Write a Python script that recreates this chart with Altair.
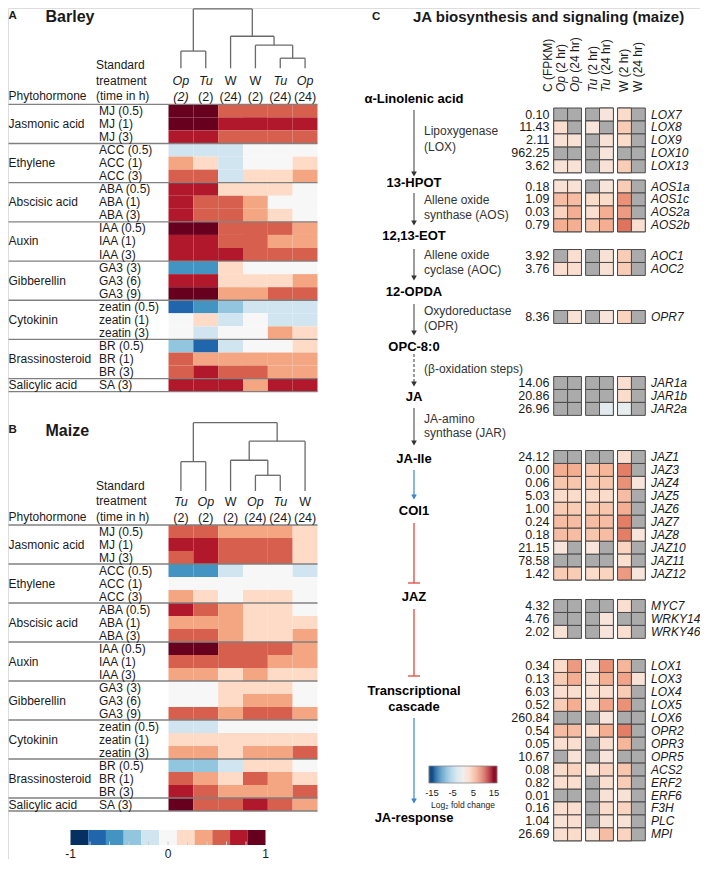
import altair as alt
import pandas as pd
import numpy as np

FONT = "Liberation Sans"

# ------------------------------------------------------------------ data: panels A and B
hormones = ["Jasmonic acid", "Ethylene", "Abscisic acid", "Auxin", "Gibberellin",
            "Cytokinin", "Brassinosteroid", "Salicylic acid"]
treatments = [
    ["MJ (0.5)", "MJ (1)", "MJ (3)"],
    ["ACC (0.5)", "ACC (1)", "ACC (3)"],
    ["ABA (0.5)", "ABA (1)", "ABA (3)"],
    ["IAA (0.5)", "IAA (1)", "IAA (3)"],
    ["GA3 (3)", "GA3 (6)", "GA3 (9)"],
    ["zeatin (0.5)", "zeatin (1)", "zeatin (3)"],
    ["BR (0.5)", "BR (1)", "BR (3)"],
    ["SA (3)"],
]
barley_species = ["Op", "Tu", "W", "W", "Tu", "Op"]
barley_times = ["(2)", "(2)", "(24)", "(2)", "(24)", "(24)"]
barley_time_italic = [True, False, False, False, False, False]
maize_species = ["Tu", "Op", "W", "Op", "Tu", "W"]
maize_times = ["(2)", "(2)", "(2)", "(24)", "(24)", "(24)"]
maize_time_italic = [False] * 6

barley_corr = [
    [0.95, 0.95, 0.55, 0.55, 0.55, 0.55],
    [0.95, 0.95, 0.75, 0.75, 0.75, 0.75],
    [0.75, 0.75, 0.55, 0.55, 0.55, 0.55],
    [-0.2, -0.2, -0.2, 0.0, 0.0, 0.0],
    [0.4, 0.2, -0.2, 0.0, 0.0, 0.2],
    [0.55, 0.55, -0.2, 0.2, 0.2, 0.4],
    [0.75, 0.75, 0.2, 0.2, 0.2, 0.0],
    [0.75, 0.55, 0.55, 0.4, 0.0, 0.0],
    [0.75, 0.55, 0.55, 0.4, 0.2, 0.0],
    [0.95, 0.95, 0.55, 0.55, 0.55, 0.4],
    [0.75, 0.75, 0.55, 0.55, 0.4, 0.4],
    [0.75, 0.75, 0.75, 0.55, 0.55, 0.55],
    [-0.55, -0.55, 0.2, 0.0, 0.0, 0.0],
    [0.75, 0.75, 0.2, 0.2, 0.2, 0.4],
    [0.95, 0.95, 0.4, 0.4, 0.55, 0.55],
    [-0.75, -0.55, -0.4, -0.2, -0.2, -0.2],
    [0.0, 0.2, -0.2, 0.0, -0.2, -0.2],
    [0.0, -0.2, 0.0, 0.0, 0.4, 0.2],
    [-0.4, -0.75, -0.2, 0.0, 0.0, 0.2],
    [0.55, 0.4, 0.4, 0.4, 0.4, 0.4],
    [0.55, 0.75, 0.55, 0.55, 0.4, 0.4],
    [0.75, 0.75, 0.75, 0.4, 0.75, 0.75],
]
maize_corr = [
    [0.55, 0.55, 0.4, 0.4, 0.4, 0.2],
    [0.75, 0.75, 0.55, 0.55, 0.55, 0.2],
    [0.55, 0.75, 0.55, 0.55, 0.55, 0.2],
    [-0.55, -0.55, -0.2, 0.0, 0.0, -0.2],
    [0.0, 0.0, 0.0, 0.0, 0.0, 0.0],
    [0.4, 0.2, 0.0, 0.2, 0.2, 0.0],
    [0.75, 0.55, 0.4, 0.2, 0.2, 0.0],
    [0.4, 0.4, 0.4, 0.2, 0.2, 0.2],
    [0.55, 0.55, 0.4, 0.2, 0.2, 0.4],
    [0.95, 0.95, 0.55, 0.55, 0.55, 0.4],
    [0.55, 0.55, 0.55, 0.55, 0.4, 0.4],
    [0.4, 0.4, 0.2, 0.4, 0.2, 0.2],
    [0.0, 0.0, 0.2, 0.2, 0.2, 0.0],
    [0.0, 0.0, 0.2, 0.4, 0.4, 0.0],
    [0.55, 0.55, 0.4, 0.55, 0.55, 0.4],
    [-0.2, -0.2, 0.0, 0.0, 0.0, 0.0],
    [0.2, 0.2, 0.2, 0.2, 0.2, 0.2],
    [0.4, 0.4, 0.2, 0.4, 0.4, 0.55],
    [-0.4, -0.4, -0.2, 0.2, 0.2, 0.0],
    [0.55, 0.4, 0.2, 0.55, 0.4, 0.2],
    [0.75, 0.55, 0.4, 0.4, 0.4, 0.55],
    [0.95, 0.55, 0.55, 0.75, 0.55, 0.4],
]
# dendrogram merges: (left node, right node, relative height); leaves are 0..5
barley_merges = [(0, 1, 0.29), (4, 5, 0.17), (3, 7, 0.39), (2, 8, 0.54), (6, 9, 1.0)]
maize_merges = [(0, 1, 0.43), (3, 4, 0.23), (2, 7, 0.45), (8, 5, 0.73), (6, 9, 1.0)]

# ------------------------------------------------------------------ data: panel C
c_groups = ["Op", "Op", "Tu", "Tu", "W", "W"]
c_times = ["2 hr", "24 hr", "2 hr", "24 hr", "2 hr", "24 hr"]
c_genes = [
    ["LOX7", "LOX8", "LOX9", "LOX10", "LOX13"],
    ["AOS1a", "AOS1c", "AOS2a", "AOS2b"],
    ["AOC1", "AOC2"],
    ["OPR7"],
    ["JAR1a", "JAR1b", "JAR2a"],
    ["JAZ1", "JAZ3", "JAZ4", "JAZ5", "JAZ6", "JAZ7", "JAZ8", "JAZ10", "JAZ11", "JAZ12"],
    ["MYC7", "WRKY14", "WRKY46"],
    ["LOX1", "LOX3", "LOX4", "LOX5", "LOX6", "OPR2", "OPR3", "OPR5", "ACS2", "ERF2",
     "ERF6", "F3H", "PLC", "MPI"],
]
c_fpkm = [
    [0.10, 11.43, 2.11, 962.25, 3.62],
    [0.18, 1.09, 0.03, 0.79],
    [3.92, 3.76],
    [8.36],
    [14.06, 20.86, 26.96],
    [24.12, 0.00, 0.06, 5.03, 1.00, 0.24, 0.18, 21.15, 78.58, 1.42],
    [4.32, 4.76, 2.02],
    [0.34, 0.13, 6.03, 0.52, 260.84, 0.54, 0.05, 10.67, 0.08, 0.82, 0.01, 0.16, 1.04, 26.69],
]
N = None  # not significant (grey)
c_fc = [
    [[N, N, N, 1.5, 3, N], [2.5, N, 1.5, N, 4, N], [2, 2, N, 2, 3, N],
     [N, N, N, 1.5, N, N], [2, 2, N, 2, 4, N]],
    [[2, 2, N, 1.5, 4, N], [5, 5, 3, 3, 7.5, N], [3.5, 6, 2.5, 6, 7, N],
     [6, 6, 4.5, 6, 9, 2.5]],
    [[N, 2.5, N, 2, 4, N], [2.5, 2.5, N, 2, 4, N]],
    [[N, 2, N, 1.5, 3.5, N]],
    [[N, N, N, N, 2.5, N], [N, N, N, N, 3, N], [N, N, N, -1.5, -1, N]],
    [[N, N, N, N, 2.5, N], [6, 6, 4.5, 5.5, 8.5, N], [4.5, 4.5, 4, 4.5, 7.5, 1.5],
     [3, 3, 3, 3, 5, N], [4, 4, 4, 4.5, 6, N], [5, 5, 5, 5, 8.5, N],
     [5, 5, 4.5, 5, 8.5, 1.5], [1.5, N, 1.5, N, 3.5, N], [N, N, N, N, 2.5, N],
     [4, 4, 3, 3.5, 7, 1.5]],
    [[N, N, N, N, 2.5, N], [N, N, N, 1.5, N, N], [2, N, N, 1.5, 2.5, N]],
    [[3, 7, 1.5, 7.5, 5.5, N], [4, 6, 2.5, 6, 6.5, 2], [2.5, 2.5, 2, 2.5, 4, N],
     [4, 6, 2.5, 6.5, 7.5, N], [N, N, N, 1.5, N, N], [5, 5, 3, 6, 8.5, N],
     [2.5, 2.5, N, 2.5, 5.5, N], [N, 2, N, 1.5, N, N], [3, 3.5, 2, 3.5, 4.5, N],
     [2.5, 2.5, N, 2.5, 4, N], [N, N, N, 2, 2, N], [2.5, 2.5, N, 3, 3.5, N],
     [2, 2.5, N, 2, 2, N], [2.5, 3, 2, 5, 3.5, N]],
]

# ------------------------------------------------------------------ layout helpers
W, H = 692, 851

# left column (panels A, B): reference pixel -> chart pixel
AB_YREF = [0, 30, 395, 425, 818, 836, 873]
AB_YCH = [-1, 22, 387, 413, 806, 819, 856]


def pxa(x):
    return x - 6.5


def pya(y):
    return float(np.interp(y, AB_YREF, AB_YCH))


# right column (panel C)
def pxc(x):
    return x - 11.0


def pyc(y):
    return y - 6.0


RD = ["#053061", "#2166ac", "#4393c3", "#92c5de", "#d1e5f0", "#f7f7f7",
      "#fddbc7", "#f4a582", "#d6604d", "#b2182b", "#67001f"]
QCOL = alt.Scale(type="quantize", domain=[-1, 1], range=RD)
CCOL = alt.Scale(domain=[-15, 15], scheme="redblue", reverse=True)
TXT = "#1a1a1a"
SEP = "#808080"

CANVAS = {
    "AB": (alt.Scale(domain=[0, 708], range=[pxa(0), pxa(708)], nice=False, zero=False),
           alt.Scale(domain=AB_YREF, range=AB_YCH, nice=False, zero=False)),
    "C": (alt.Scale(domain=[0, 708], range=[pxc(0), pxc(708)], nice=False, zero=False),
          alt.Scale(domain=[0, 873], range=[pyc(0), pyc(873)], nice=False, zero=False)),
}

layers = []


def canvas_text(rows, size, col, weight="normal", style="normal", align="left",
                color=TXT, angle=0):
    sx, sy = CANVAS[col]
    df = pd.DataFrame(rows, columns=["t", "x", "y"])
    return alt.Chart(df).mark_text(
        font=FONT, fontSize=size, fontWeight=weight, fontStyle=style,
        align=align, baseline="middle", color=color, angle=angle
    ).encode(x=alt.X("x:Q", scale=sx, axis=None), y=alt.Y("y:Q", scale=sy, axis=None),
             text="t:N")


def canvas_rules(rows, color, width=1.2, dash=None):
    sx, sy = CANVAS["C"]
    df = pd.DataFrame(rows, columns=["x", "y", "x2", "y2"])
    kw = dict(color=color, strokeWidth=width)
    if dash:
        kw["strokeDash"] = dash
    return alt.Chart(df).mark_rule(**kw).encode(
        x=alt.X("x:Q", scale=sx, axis=None), y=alt.Y("y:Q", scale=sy, axis=None),
        x2="x2:Q", y2="y2:Q")


def canvas_heads(rows, color):
    sx, sy = CANVAS["C"]
    df = pd.DataFrame(rows, columns=["x", "y"])
    return alt.Chart(df).mark_point(shape="triangle-down", filled=True, size=32,
                                     color=color, opacity=1).encode(
        x=alt.X("x:Q", scale=sx, axis=None), y=alt.Y("y:Q", scale=sy, axis=None))


def dendro_segments(merges, n=6):
    pos = {i: (float(i), 0.0) for i in range(n)}
    segs = []
    node = n
    for a, b, h in merges:
        xa, ha = pos[a]
        xb, hb = pos[b]
        segs.append(dict(x=xa, x2=xa, y=ha, y2=h))
        segs.append(dict(x=xb, x2=xb, y=hb, y2=h))
        segs.append(dict(x=xa, x2=xb, y=h, y2=h))
        pos[node] = ((xa + xb) / 2.0, h)
        node += 1
    return pd.DataFrame(segs)


def heat_panel(corr, species, times, time_italic, merges, y0, y1, d_top, d_bot, sp_y, t_y):
    out = []
    cols = [f"{s} {t}" for s, t in zip(species, times)]
    rows = [t for g in treatments for t in g]
    XS = alt.Scale(domain=cols, range=[pxa(167), pxa(316)], paddingInner=0, paddingOuter=0)
    YS = alt.Scale(domain=rows, range=[pya(y0), pya(y1)], paddingInner=0, paddingOuter=0)
    cells = pd.DataFrame([dict(row=r, col=c, v=corr[i][j])
                          for i, r in enumerate(rows) for j, c in enumerate(cols)])
    out.append(alt.Chart(cells).mark_rect().encode(
        x=alt.X("col:N", scale=XS, axis=None),
        y=alt.Y("row:N", scale=YS, axis=None),
        color=alt.Color("v:Q", scale=QCOL, legend=None)))
    sep = pd.DataFrame({"row": [g[0] for g in treatments]})
    out.append(alt.Chart(sep).mark_rule(color=SEP, strokeWidth=1.3).encode(
        y=alt.Y("row:N", scale=YS, axis=None, bandPosition=0),
        x=alt.value(pxa(7)), x2=alt.value(pxa(316))))
    last = pd.DataFrame({"row": [rows[-1]]})
    out.append(alt.Chart(last).mark_rule(color=SEP, strokeWidth=1.3).encode(
        y=alt.Y("row:N", scale=YS, axis=None, bandPosition=1),
        x=alt.value(pxa(7)), x2=alt.value(pxa(316))))
    lab = pd.DataFrame({"row": rows})
    out.append(alt.Chart(lab).mark_text(align="left", baseline="middle", font=FONT,
                                        fontSize=12, color=TXT).encode(
        y=alt.Y("row:N", scale=YS, axis=None), x=alt.value(pxa(97.5)), text="row:N"))
    grp = pd.DataFrame({"row": [g[len(g) // 2] for g in treatments], "name": hormones})
    out.append(alt.Chart(grp).mark_text(align="left", baseline="middle", font=FONT,
                                        fontSize=12, color=TXT).encode(
        y=alt.Y("row:N", scale=YS, axis=None), x=alt.value(pxa(7)), text="name:N"))
    hdr = pd.DataFrame({"col": cols, "sp": species, "tm": times,
                        "spi": [s != "W" for s in species], "tmi": time_italic})
    for field, yref, flag in [("sp", sp_y, "spi"), ("tm", t_y, "tmi")]:
        for ital in (True, False):
            sub = hdr[hdr[flag] == ital]
            if len(sub) == 0:
                continue
            out.append(alt.Chart(sub).mark_text(
                align="center", baseline="middle", font=FONT, fontSize=12.5,
                fontStyle="italic" if ital else "normal", color=TXT).encode(
                x=alt.X("col:N", scale=XS, axis=None), y=alt.value(pya(yref)),
                text=f"{field}:N"))
    seg = dendro_segments(merges)
    DX = alt.Scale(domain=[-0.5, 5.5], range=[pxa(167), pxa(316)], nice=False, zero=False)
    DY = alt.Scale(domain=[0, 1], range=[pya(d_bot), pya(d_top)], nice=False, zero=False)
    out.append(alt.Chart(seg).mark_rule(color="#6a6a6a", strokeWidth=1.3).encode(
        x=alt.X("x:Q", scale=DX, axis=None), x2="x2:Q",
        y=alt.Y("y:Q", scale=DY, axis=None), y2="y2:Q"))
    return out


# ------------------------------------------------------------------ panels A and B
layers += heat_panel(barley_corr, barley_species, barley_times, barley_time_italic,
                     barley_merges, 104.3, 391.7, 2.5, 68.3, 81, 97)
layers += heat_panel(maize_corr, maize_species, maize_times, maize_time_italic,
                     maize_merges, 529, 815, 426.7, 495, 506, 522)

for base in (0, 424.5):
    layers.append(canvas_text([("Standard", 94.5, 65 + base), ("treatment", 94.5, 80.5 + base),
                               ("(time in h)", 94.5, 96 + base), ("Phytohormone", 7, 96 + base)],
                              12, "AB"))
layers.append(canvas_text([("A", 7, 12), ("B", 7, 434)], 11.5, "AB", weight="bold"))
layers.append(canvas_text([("Barley", 44, 12.5), ("Maize", 44, 434.5)], 16, "AB", weight="bold"))
layers.append(canvas_text([("C", 375, 14.5)], 11.5, "C", weight="bold"))
layers.append(canvas_text([("JA biosynthesis and signaling (maize)", 416, 15)], 15, "C",
                          weight="bold"))

# colour bar for A/B
cb_edges = [-1 + 2 * k / 11 for k in range(12)]
cb = pd.DataFrame({"lo": cb_edges[:-1], "hi": cb_edges[1:]})
cb["mid"] = (cb["lo"] + cb["hi"]) / 2
CBX = alt.Scale(domain=[-1, 1], range=[pxa(69), pxa(264)], nice=False, zero=False)
layers.append(alt.Chart(cb).mark_rect().encode(
    x=alt.X("lo:Q", scale=CBX, axis=None), x2="hi:Q",
    y=alt.value(pya(839)), y2=alt.value(pya(854)),
    color=alt.Color("mid:Q", scale=QCOL, legend=None)))
cb_ticks = pd.DataFrame({"v": [-0.8, -0.6, -0.4, -0.2, 0.0, 0.2, 0.4, 0.6, 0.8]})
layers.append(alt.Chart(cb_ticks).mark_rule(color="#d0d0d0", strokeWidth=1).encode(
    x=alt.X("v:Q", scale=CBX, axis=None), y=alt.value(pya(850.5)), y2=alt.value(pya(854))))
cb_labels = pd.DataFrame({"v": [-1, 0, 1], "t": ["-1", "0", "1"]})
layers.append(alt.Chart(cb_labels).mark_text(font=FONT, fontSize=12, color=TXT,
                                             baseline="middle", align="center").encode(
    x=alt.X("v:Q", scale=CBX, axis=None), y=alt.value(pya(862.5)), text="t:N"))

# ------------------------------------------------------------------ panel C heat cells
pitch = 12.95
c_group_top = [112.5, 184.5, 254, 315, 381, 455, 604, 664]
crow = []
ccell = []
for gi, genes in enumerate(c_genes):
    for i, g in enumerate(genes):
        slot = (c_group_top[gi] - 112.5) / pitch + i
        crow.append(dict(gene=g, slot=slot, fpkm=f"{c_fpkm[gi][i]:.2f}"))
        for j in range(6):
            ccell.append(dict(gene=g, top=slot - 0.5, bot=slot + 0.5, grp=c_groups[j],
                              tm=c_times[j], fc=c_fc[gi][i][j]))
crow = pd.DataFrame(crow)
ccell = pd.DataFrame(ccell)

CX0, CX1, CPAD = 556.7, 648.3, 0.13
CYS = alt.Scale(domain=[0, 1], range=[pyc(112.5), pyc(112.5 + pitch)], nice=False, zero=False)
CXS = alt.Scale(domain=["Op", "Tu", "W"], range=[pxc(CX0), pxc(CX1)],
                paddingInner=CPAD, paddingOuter=0)
COFF = alt.Scale(domain=["2 hr", "24 hr"], paddingInner=0, paddingOuter=0)

layers.append(alt.Chart(ccell).mark_rect(fill="#ababab", stroke="#4a4a4a", strokeWidth=1).encode(
    x=alt.X("grp:N", scale=CXS, axis=None), xOffset=alt.XOffset("tm:N", scale=COFF),
    y=alt.Y("top:Q", scale=CYS, axis=None), y2="bot:Q"))
layers.append(alt.Chart(ccell).transform_filter("isValid(datum.fc)").mark_rect(
    stroke="#4a4a4a", strokeWidth=1).encode(
    x=alt.X("grp:N", scale=CXS, axis=None), xOffset=alt.XOffset("tm:N", scale=COFF),
    y=alt.Y("top:Q", scale=CYS, axis=None), y2="bot:Q",
    color=alt.Color("fc:Q", scale=CCOL, legend=None)))
layers.append(alt.Chart(crow).mark_text(font=FONT, fontSize=12, fontStyle="italic",
                                        align="left", baseline="middle", color=TXT).encode(
    x=alt.value(pxc(654)), y=alt.Y("slot:Q", scale=CYS, axis=None), text="gene:N"))
layers.append(alt.Chart(crow).mark_text(font=FONT, fontSize=12.5, align="right",
                                        baseline="middle", color=TXT).encode(
    x=alt.value(pxc(552.5)), y=alt.Y("slot:Q", scale=CYS, axis=None), text="fpkm:N"))

# rotated column headers, centred on the cell columns
step = (CX1 - CX0) / (3 - CPAD)
band = step * (1 - CPAD)
hx = [CX0 + g * step + (k + 0.5) * band / 2 for g in range(3) for k in range(2)]
ital_rows, norm_rows = [], []
for j in range(6):
    sp, tm = c_groups[j], c_times[j]
    if sp == "W":
        norm_rows.append((f"W ({tm})", hx[j], 90))
    else:
        shift = 19.3 if sp == "Op" else 17.3
        ital_rows.append((sp, hx[j], 90))
        norm_rows.append((f"({tm})", hx[j], 90 - shift))
norm_rows.append(("C (FPKM)", 551, 90))
layers.append(canvas_text(ital_rows, 12, "C", style="italic", angle=270))
layers.append(canvas_text(norm_rows, 12, "C", angle=270))

# ------------------------------------------------------------------ panel C pathway diagram
AX = 417
compounds = [("α-Linolenic acid", AX, 97), ("13-HPOT", AX, 181), ("12,13-EOT", AX, 234),
             ("12-OPDA", AX, 290), ("OPC-8:0", AX, 345), ("JA", AX, 395), ("JA-Ile", AX, 457),
             ("COI1", AX, 509), ("JAZ", AX, 595), ("Transcriptional", AX, 689),
             ("cascade", AX, 705), ("JA-response", AX, 816)]
layers.append(canvas_text(compounds, 13, "C", weight="bold", align="center", color="#000000"))
enzymes = [("Lipoxygenase", 427, 128.5), ("(LOX)", 427, 144.5), ("Allene oxide", 427, 198),
           ("synthase (AOS)", 427, 212.5), ("Allene oxide", 427, 253), ("cyclase (AOC)", 427, 268),
           ("Oxydoreductase", 427, 309), ("(OPR)", 427, 324), ("(β-oxidation steps)", 427, 367),
           ("JA-amino", 427, 417), ("synthase (JAR)", 427, 431)]
layers.append(canvas_text(enzymes, 12, "C", color="#333333"))

gray_arrows = [(108, 175), (191, 224), (247, 279), (302, 334), (406, 444)]
layers.append(canvas_rules([(AX, a, AX, b - 5) for a, b in gray_arrows], "#5a5a5a"))
layers.append(canvas_rules([(AX, 352, AX, 380)], "#5a5a5a", dash=[3, 2]))
layers.append(canvas_heads([(AX, b - 3) for a, b in gray_arrows] + [(AX, 382)], "#333333"))
blue_arrows = [(468, 498), (716, 802)]
layers.append(canvas_rules([(AX, a, AX, b - 5) for a, b in blue_arrows], "#3d85c6"))
layers.append(canvas_heads([(AX, b - 3) for a, b in blue_arrows], "#3d85c6"))
red_bars = [(521, 581), (607, 674)]
layers.append(canvas_rules([(AX, a, AX, b) for a, b in red_bars] +
                           [(AX - 6, b, AX + 6, b) for a, b in red_bars], "#e0483e", width=1.3))

# colour bar for C
ccb_edges = [-16.5 + 0.5 * k for k in range(67)]
ccb = pd.DataFrame({"lo": ccb_edges[:-1], "hi": ccb_edges[1:]})
ccb["mid"] = ((ccb["lo"] + ccb["hi"]) / 2).clip(-15, 15)
CCBX = alt.Scale(domain=[-15, 15], range=[pxc(435), pxc(497)], nice=False, zero=False)
layers.append(alt.Chart(ccb).mark_rect().encode(
    x=alt.X("lo:Q", scale=CCBX, axis=None), x2="hi:Q",
    y=alt.value(pyc(764)), y2=alt.value(pyc(781)),
    color=alt.Color("mid:Q", scale=CCOL, legend=None)))
ccb_frame = pd.DataFrame({"lo": [-16.5], "hi": [16.5]})
layers.append(alt.Chart(ccb_frame).mark_rect(fill=None, stroke="#888888", strokeWidth=0.8).encode(
    x=alt.X("lo:Q", scale=CCBX, axis=None), x2="hi:Q",
    y=alt.value(pyc(764)), y2=alt.value(pyc(781))))
ccb_labels = pd.DataFrame({"v": [-15, -5, 5, 15], "t": ["-15", "-5", "5", "15"]})
layers.append(alt.Chart(ccb_labels).mark_text(font=FONT, fontSize=9.5, color=TXT,
                                              baseline="middle", align="center").encode(
    x=alt.X("v:Q", scale=CCBX, axis=None), y=alt.value(pyc(791)), text="t:N"))
layers.append(canvas_text([("Log₂ fold change", 466, 803)], 8.5, "C", align="center"))

# ------------------------------------------------------------------ assemble
chart = alt.layer(*layers).resolve_scale(
    x="independent", y="independent", color="independent", xOffset="independent"
).properties(
    width=W, height=H, padding=0, autosize=alt.AutoSizeParams(type="none")
).configure_view(stroke=None).configure(font=FONT)

chart.save("out.html", embed_options={"renderer": "svg", "actions": False})
